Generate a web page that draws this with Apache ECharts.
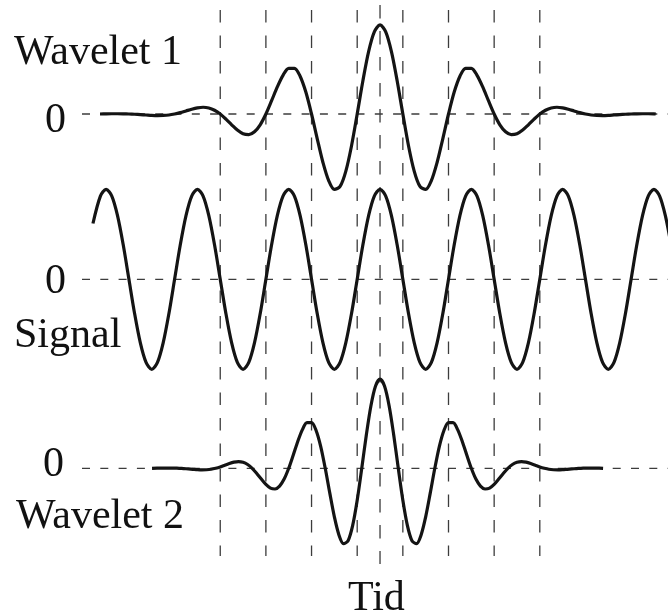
<!DOCTYPE html>
<html>
<head>
<meta charset="utf-8">
<title>Wavelet</title>
<script src="https://cdn.jsdelivr.net/npm/echarts@6/dist/echarts.min.js"></script>
<style>
  html, body { margin: 0; padding: 0; background: #ffffff; }
  #chart { width: 668px; height: 616px; }
</style>
</head>
<body>
<div id="chart"></div>
<script>
// Time in signal periods, centred on the middle peak; amplitudes relative to the signal.
const signalPoints = [
  [-3.144, 0.62], [-3.0625, 0.924],
  [-3, 1], [-2.9375, 0.924], [-2.875, 0.707], [-2.8125, 0.383], [-2.75, 0], [-2.6875, -0.383], [-2.625, -0.707], [-2.5625, -0.924],
  [-2.5, -1], [-2.4375, -0.924], [-2.375, -0.707], [-2.3125, -0.383], [-2.25, 0], [-2.1875, 0.383], [-2.125, 0.707], [-2.0625, 0.924],
  [-2, 1], [-1.9375, 0.924], [-1.875, 0.707], [-1.8125, 0.383], [-1.75, 0], [-1.6875, -0.383], [-1.625, -0.707], [-1.5625, -0.924],
  [-1.5, -1], [-1.4375, -0.924], [-1.375, -0.707], [-1.3125, -0.383], [-1.25, 0], [-1.1875, 0.383], [-1.125, 0.707], [-1.0625, 0.924],
  [-1, 1], [-0.9375, 0.924], [-0.875, 0.707], [-0.8125, 0.383], [-0.75, 0], [-0.6875, -0.383], [-0.625, -0.707], [-0.5625, -0.924],
  [-0.5, -1], [-0.4375, -0.924], [-0.375, -0.707], [-0.3125, -0.383], [-0.25, 0], [-0.1875, 0.383], [-0.125, 0.707], [-0.0625, 0.924],
  [0, 1], [0.0625, 0.924], [0.125, 0.707], [0.1875, 0.383], [0.25, 0], [0.3125, -0.383], [0.375, -0.707], [0.4375, -0.924],
  [0.5, -1], [0.5625, -0.924], [0.625, -0.707], [0.6875, -0.383], [0.75, 0], [0.8125, 0.383], [0.875, 0.707], [0.9375, 0.924],
  [1, 1], [1.0625, 0.924], [1.125, 0.707], [1.1875, 0.383], [1.25, 0], [1.3125, -0.383], [1.375, -0.707], [1.4375, -0.924],
  [1.5, -1], [1.5625, -0.924], [1.625, -0.707], [1.6875, -0.383], [1.75, 0], [1.8125, 0.383], [1.875, 0.707], [1.9375, 0.924],
  [2, 1], [2.0625, 0.924], [2.125, 0.707], [2.1875, 0.383], [2.25, 0], [2.3125, -0.383], [2.375, -0.707], [2.4375, -0.924],
  [2.5, -1], [2.5625, -0.924], [2.625, -0.707], [2.6875, -0.383], [2.75, 0], [2.8125, 0.383], [2.875, 0.707], [2.9375, 0.924],
  [3, 1], [3.0625, 0.924], [3.125, 0.707], [3.1875, 0.383], [3.25, 0]
];

// Wavelet 1: same period as the signal
const wavelet1Points = [
  [-3.067, 0], [-3, 0.002], [-2.9375, 0.003], [-2.875, 0.003], [-2.8125, 0.002], [-2.75, 0],
  [-2.6875, -0.003], [-2.625, -0.007], [-2.5625, -0.011], [-2.5, -0.015], [-2.4375, -0.017], [-2.375, -0.016], [-2.3125, -0.011], [-2.25, 0],
  [-2.1875, 0.015], [-2.125, 0.034], [-2.0625, 0.053], [-2, 0.068], [-1.9375, 0.075], [-1.875, 0.067], [-1.8125, 0.042], [-1.75, 0],
  [-1.6875, -0.057], [-1.625, -0.12], [-1.5625, -0.179], [-1.5, -0.22], [-1.4375, -0.23], [-1.375, -0.198], [-1.3125, -0.12], [-1.25, 0],
  [-1.1875, 0.148], [-1.125, 0.301], [-1.0625, 0.43], [-1, 0.508], [-0.9375, 0.508], [-0.875, 0.42], [-0.8125, 0.244], [-0.75, 0],
  [-0.6875, -0.276], [-0.625, -0.539], [-0.5625, -0.74], [-0.5, -0.838], [-0.4375, -0.805], [-0.375, -0.637], [-0.3125, -0.355], [-0.25, 0],
  [-0.1875, 0.37], [-0.125, 0.693], [-0.0625, 0.912], [0, 0.99], [0.0625, 0.912], [0.125, 0.693], [0.1875, 0.37],
  [0.25, 0], [0.3125, -0.355], [0.375, -0.637], [0.4375, -0.805], [0.5, -0.838], [0.5625, -0.74], [0.625, -0.539], [0.6875, -0.276],
  [0.75, 0], [0.8125, 0.244], [0.875, 0.42], [0.9375, 0.508], [1, 0.508], [1.0625, 0.43], [1.125, 0.301], [1.1875, 0.148],
  [1.25, 0], [1.3125, -0.12], [1.375, -0.198], [1.4375, -0.23], [1.5, -0.22], [1.5625, -0.179], [1.625, -0.12], [1.6875, -0.057],
  [1.75, 0], [1.8125, 0.042], [1.875, 0.067], [1.9375, 0.075], [2, 0.068], [2.0625, 0.053], [2.125, 0.034], [2.1875, 0.015],
  [2.25, 0], [2.3125, -0.011], [2.375, -0.016], [2.4375, -0.017], [2.5, -0.015], [2.5625, -0.011], [2.625, -0.007], [2.6875, -0.003],
  [2.75, 0], [2.8125, 0.002], [2.875, 0.003], [2.9375, 0.003], [3, 0.002], [3.02, 0]
];

// Wavelet 2: compressed in time, period 0.8 of the signal's
const wavelet2Points = [
  [-2.497, 0], [-2.4, 0.002], [-2.35, 0.003], [-2.3, 0.003], [-2.25, 0.002], [-2.2, 0],
  [-2.15, -0.003], [-2.1, -0.007], [-2.05, -0.011], [-2, -0.015], [-1.95, -0.017], [-1.9, -0.016], [-1.85, -0.011], [-1.8, 0],
  [-1.75, 0.015], [-1.7, 0.034], [-1.65, 0.053], [-1.6, 0.068], [-1.55, 0.075], [-1.5, 0.067], [-1.45, 0.042], [-1.4, 0],
  [-1.35, -0.057], [-1.3, -0.12], [-1.25, -0.179], [-1.2, -0.22], [-1.15, -0.23], [-1.1, -0.198], [-1.05, -0.12], [-1, 0],
  [-0.95, 0.148], [-0.9, 0.301], [-0.85, 0.43], [-0.8, 0.508], [-0.75, 0.508], [-0.7, 0.42], [-0.65, 0.244], [-0.6, 0],
  [-0.55, -0.276], [-0.5, -0.539], [-0.45, -0.74], [-0.4, -0.838], [-0.35, -0.805], [-0.3, -0.637], [-0.25, -0.355], [-0.2, 0],
  [-0.15, 0.37], [-0.1, 0.693], [-0.05, 0.912], [0, 0.99], [0.05, 0.912], [0.1, 0.693], [0.15, 0.37],
  [0.2, 0], [0.25, -0.355], [0.3, -0.637], [0.35, -0.805], [0.4, -0.838], [0.45, -0.74], [0.5, -0.539], [0.55, -0.276],
  [0.6, 0], [0.65, 0.244], [0.7, 0.42], [0.75, 0.508], [0.8, 0.508], [0.85, 0.43], [0.9, 0.301], [0.95, 0.148],
  [1, 0], [1.05, -0.12], [1.1, -0.198], [1.15, -0.23], [1.2, -0.22], [1.25, -0.179], [1.3, -0.12], [1.35, -0.057],
  [1.4, 0], [1.45, 0.042], [1.5, 0.067], [1.55, 0.075], [1.6, 0.068], [1.65, 0.053], [1.7, 0.034], [1.75, 0.015],
  [1.8, 0], [1.85, -0.011], [1.9, -0.016], [1.95, -0.017], [2, -0.015], [2.05, -0.011], [2.1, -0.007], [2.15, -0.003],
  [2.2, 0], [2.25, 0.002], [2.3, 0.003], [2.35, 0.003], [2.4, 0.002], [2.443, 0]
];

// Vertical guides: signal zero crossings around the centre, plus the centre peak.
const guideTimes = [-1.75, -1.25, -0.75, -0.25, 0.25, 0.75, 1.25, 1.75];
const centreTime = 0;

// Extent of the dashed zero lines along the time axis.
const zeroLineSpan = [-3.264, 3.154];

const rowLabels = ['Wavelet 1', 'Signal', 'Wavelet 2'];
const zeroLabel = '0';
const axisTitle = 'Tid';

const chart = echarts.init(document.getElementById('chart'), null, { renderer: 'canvas' });

const INK = '#141414';
const GUIDE = '#3c3c3c';
const FONT = '42px "Liberation Serif", "Times New Roman", serif';

const X_MIN = -4, X_MAX = 3.154;
const xBase = { type: 'value', min: X_MIN, max: X_MAX, show: false };
const yRow = { type: 'value', min: -1.2, max: 1.2, show: false };

const PLOT_LEFT = 14.8, PLOT_WIDTH = 653.2;
const rowTops = [6, 171.3, 360.3];
const grids = rowTops.map(top => ({ left: PLOT_LEFT, width: PLOT_WIDTH, top: top, height: 216, outerBoundsMode: 'none' }));
grids.push({ left: PLOT_LEFT, width: PLOT_WIDTH, top: 0, height: 616, outerBoundsMode: 'none' });

const xAxes = grids.map((g, i) => Object.assign({ gridIndex: i }, xBase));
const yAxes = [0, 1, 2].map(i => Object.assign({ gridIndex: i }, yRow));
yAxes.push({ gridIndex: 3, type: 'value', min: 0, max: 616, inverse: true, show: false });

const series = [];

// horizontal dashed zero line in each row
[0, 1, 2].forEach(i => {
  series.push({
    type: 'line', xAxisIndex: i, yAxisIndex: i, z: 1,
    data: [[zeroLineSpan[0], 0], [zeroLineSpan[1], 0]],
    showSymbol: false, silent: true,
    lineStyle: { color: GUIDE, width: 1.3, type: [8, 10.3] }
  });
});

// vertical dashed guides across all rows
guideTimes.forEach(t => {
  series.push({
    type: 'line', xAxisIndex: 3, yAxisIndex: 3, z: 1,
    data: [[t, 10], [t, 556]],
    showSymbol: false, silent: true,
    lineStyle: { color: GUIDE, width: 1.3, type: [12.5, 13] }
  });
});
series.push({
  type: 'line', xAxisIndex: 3, yAxisIndex: 3, z: 1,
  data: [[centreTime, 5], [centreTime, 564]],
  showSymbol: false, silent: true,
  lineStyle: { color: GUIDE, width: 1.3, type: [13.5, 12.5] }
});

// the three curves
[wavelet1Points, signalPoints, wavelet2Points].forEach((pts, i) => {
  series.push({
    name: rowLabels[i],
    type: 'line', xAxisIndex: i, yAxisIndex: i, z: 3,
    data: pts, smooth: 0.3,
    showSymbol: false, silent: true,
    lineStyle: { color: INK, width: 3.2, join: 'round' }
  });
});

function label(text, x, y) {
  return {
    type: 'text', silent: true,
    style: { text: text, x: x, y: y, font: FONT, fill: '#111111', textAlign: 'left', textVerticalAlign: 'middle', verticalAlign: 'middle' }
  };
}

chart.setOption({
  animation: false,
  backgroundColor: '#ffffff',
  grid: grids,
  xAxis: xAxes,
  yAxis: yAxes,
  series: series,
  graphic: [
    label(rowLabels[0], 14, 53),
    label(zeroLabel, 45, 120.5),
    label(zeroLabel, 45, 281.5),
    label(rowLabels[1], 14, 335.5),
    label(zeroLabel, 43, 465),
    label(rowLabels[2], 16, 517),
    label(axisTitle, 348, 599)
  ]
});
</script>
</body>
</html>
